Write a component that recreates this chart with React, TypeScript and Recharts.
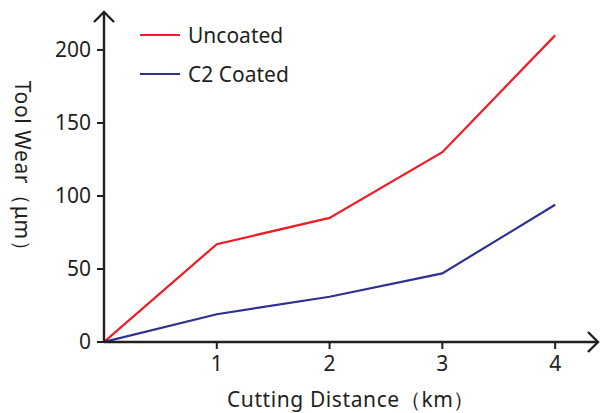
import { LineChart, Line, XAxis, YAxis } from "recharts";

const distances = [0, 1, 2, 3, 4];
const uncoated = [0, 67, 85, 130, 210];
const c2Coated = [0, 19, 31, 47, 94];
const xTicks = [1, 2, 3, 4];
const yTicks = [0, 50, 100, 150, 200];

const SERIES = [
  { key: "uncoated", name: "Uncoated", color: "#ee1c25" },
  { key: "c2", name: "C2 Coated", color: "#2e3192" },
];

const FONT = "'Noto Sans', 'Open Sans', sans-serif";
const AXIS = "#231f20";

const data = distances.map((d, i) => ({ d, uncoated: uncoated[i], c2: c2Coated[i] }));

// legend drawn as an overlay so it does not take space from the plot
const LegendBox = () => (
  <div style={{ position: "absolute", left: 140, top: 15, fontFamily: FONT, fontSize: 21, color: AXIS }}>
    {SERIES.map((s) => (
      <div key={s.key} style={{ display: "flex", alignItems: "center", height: 39 }}>
        <div style={{ width: 40, height: 2, background: s.color, marginRight: 8 }} />
        <span>{s.name}</span>
      </div>
    ))}
  </div>
);

// y title reads top-to-bottom, centred beside the axis
const YTitle = (props: any) => {
  const vb = props.viewBox;
  const cx = vb.x - 21;
  const cy = vb.y + vb.height / 2 - 6;
  return (
    <text
      x={cx}
      y={cy}
      transform={`rotate(90, ${cx}, ${cy})`}
      textAnchor="middle"
      dominantBaseline="central"
      fill={AXIS}
      fontSize={21}
      letterSpacing={0.6}
      fontFamily={FONT}
    >
      Tool Wear（μm）
    </text>
  );
};

const App = () => {
  return (
    <div style={{ position: "absolute", left: 0, top: 0, width: 600, height: 413, background: "#fff" }}>
      <svg width={0} height={0} style={{ position: "absolute" }}>
        <defs>
          <marker id="arrowHead" markerUnits="userSpaceOnUse" markerWidth={24} markerHeight={24} refX={12} refY={12} orient="auto-start-reverse" viewBox="0 0 24 24">
            <path d="M 2 2 L 12 12 L 2 22" fill="none" stroke={AXIS} strokeWidth={2.4} />
          </marker>
        </defs>
      </svg>
      <LineChart width={600} height={413} data={data} margin={{ top: 12, right: 2, bottom: 0, left: 44 }}>
        <XAxis
          dataKey="d"
          type="number"
          domain={[0, 4.38]}
          ticks={xTicks}
          allowDataOverflow
          height={71}
          tickSize={7}
          tickMargin={7}
          tick={{ fill: AXIS, fontSize: 21, fontFamily: FONT }}
          tickLine={{ stroke: AXIS, strokeWidth: 2 }}
          axisLine={{ stroke: AXIS, strokeWidth: 2.4, markerEnd: "url(#arrowHead)" }}
          label={{ value: "Cutting Distance（km）", position: "insideBottom", offset: 6, fill: AXIS, fontSize: 21, letterSpacing: 0.6, fontFamily: FONT }}
        />
        <YAxis
          type="number"
          domain={[0, 226]}
          ticks={yTicks}
          allowDataOverflow
          width={60}
          tickSize={7}
          tickMargin={6}
          tick={{ fill: AXIS, fontSize: 21, fontFamily: FONT }}
          tickLine={{ stroke: AXIS, strokeWidth: 2 }}
          axisLine={{ stroke: AXIS, strokeWidth: 2.4, markerStart: "url(#arrowHead)" }}
          label={{ content: YTitle }}
        />
        {SERIES.map((s) => (
          <Line
            key={s.key}
            dataKey={s.key}
            name={s.name}
            type="linear"
            stroke={s.color}
            strokeWidth={2.2}
            dot={false}
            activeDot={false}
            isAnimationActive={false}
          />
        ))}
      </LineChart>
      <LegendBox />
    </div>
  );
};

export default App;
